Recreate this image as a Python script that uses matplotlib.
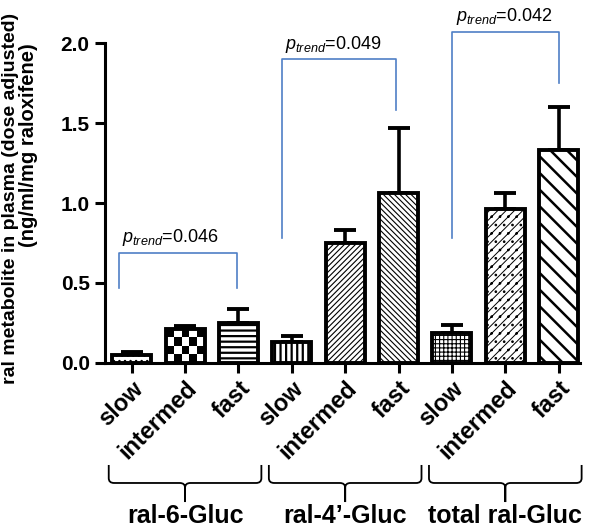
import numpy as np
import matplotlib
matplotlib.use("Agg")
import matplotlib.pyplot as plt
from matplotlib.path import Path
from matplotlib.patches import PathPatch
import matplotlib.transforms as mtransforms

plt.rcParams['font.family'] = ['Liberation Sans', 'DejaVu Sans']
plt.rcParams['mathtext.fontset'] = 'custom'
plt.rcParams['mathtext.it'] = 'Liberation Sans:italic'
plt.rcParams['mathtext.rm'] = 'Liberation Sans'

# data
groups = ['ral-6-Gluc', 'ral-4\u2019-Gluc', 'total ral-Gluc']
phenotypes = ['slow', 'intermed', 'fast']
ral6_mean = [0.05, 0.21, 0.25]
ral6_err = [0.02, 0.02, 0.09]
ral4_mean = [0.13, 0.75, 1.06]
ral4_err = [0.04, 0.08, 0.41]
total_mean = [0.19, 0.96, 1.33]
total_err = [0.05, 0.10, 0.27]
p_trend = ['0.046', '0.049', '0.042']

means = ral6_mean + ral4_mean + total_mean
errs = ral6_err + ral4_err + total_err
labels = phenotypes * 3
x = np.arange(len(means))

# hatch patterns (None -> checkerboard)
hatches = ['...', None, '---', '|||', '//////', '\\\\\\\\\\\\', '++++', '////..', '\\\\']
hatch_lw = [1.0, 1.0, 1.6, 1.6, 0.8, 0.8, 0.8, 0.7, 1.8]

fig = plt.figure(figsize=(6, 5.31), dpi=100)
ax = fig.add_axes([0.175, 0.3164, 0.7917, 0.6026])

w = 0.73
for i in range(len(means)):
    plt.rcParams['hatch.linewidth'] = hatch_lw[i]
    face = 'none' if hatches[i] is None else 'white'
    b = ax.bar(x[i], means[i], width=w, color=face, edgecolor='black',
               linewidth=2.8, hatch=hatches[i], zorder=2)[0]
    if hatches[i] is None:
        # checkerboard fill
        nx, ny = 5, 4
        board = (np.add.outer(np.arange(ny), np.arange(nx)) % 2).astype(float)
        im = ax.imshow(board, cmap='gray', interpolation='nearest', aspect='auto',
                       extent=(x[i] - w / 2, x[i] + w / 2, 0, means[i]), zorder=1.9)
        im.set_clip_path(b)

ax.errorbar(x, means, yerr=[np.zeros(len(errs)), errs], fmt='none', ecolor='black',
            elinewidth=2.6, capsize=8, capthick=2.8, zorder=1.5)

ax.set_xlim(-0.5, 8.4)
ax.set_ylim(0, 2.0)
ax.set_yticks([0.0, 0.5, 1.0, 1.5, 2.0])
ax.set_yticklabels(['0.0', '0.5', '1.0', '1.5', '2.0'], fontsize=15, fontweight='bold')
ax.set_xticks(x)
ax.set_xticklabels(labels, rotation=45, ha='right', rotation_mode='anchor',
                   fontsize=17, fontweight='bold')
ax.spines['top'].set_visible(False)
ax.spines['right'].set_visible(False)
ax.spines['left'].set_linewidth(2.2)
ax.spines['bottom'].set_linewidth(2.2)
ax.tick_params(axis='both', width=2.2, length=7, pad=4)
ax.tick_params(axis='x', pad=3)

# y label (two lines)
fig.text(0.0167, 0.627, 'ral metabolite in plasma (dose adjusted)', rotation=90,
         ha='center', va='center', fontsize=14, fontweight='bold')
fig.text(0.0467, 0.727, '(ng/ml/mg raloxifene)', rotation=90,
         ha='center', va='center', fontsize=14.5, fontweight='bold')

# p-trend brackets
blue = '#4f7fc6'
bracket_x = [(-0.24, 1.97), (2.81, 4.96), (6.01, 8.0)]
bracket_y = [(0.47, 0.47, 0.69), (0.78, 1.58, 1.90), (0.78, 1.75, 2.07)]
for g in range(3):
    xl, xr = bracket_x[g]
    yl, yr, yt = bracket_y[g]
    ax.plot([xl, xl, xr, xr], [yl, yt, yt, yr], color=blue, lw=1.2, clip_on=False, zorder=3)
    ax.text(xl + 0.06, yt + 0.065, r'$\mathit{p}_{\mathit{trend}}$=' + p_trend[g],
            fontsize=13, ha='left', va='baseline', clip_on=False)

# curly braces below the groups
def brace(ax, x0, x1, ytop, ymid, ytip, rx=0.1, ry=0.03):
    xc = (x0 + x1) / 2
    verts, codes = [], []
    for xe, s in ((x0, 1), (x1, -1)):
        verts += [(xe, ytop), (xe, ymid + ry), (xe, ymid), (xe + s * rx, ymid),
                  (xc - s * rx, ymid), (xc, ymid), (xc, ymid - ry), (xc, ytip)]
        codes += [Path.MOVETO, Path.LINETO, Path.CURVE3, Path.CURVE3,
                  Path.LINETO, Path.CURVE3, Path.CURVE3, Path.LINETO]
    ax.add_patch(PathPatch(Path(verts, codes), fill=False, lw=1.3, color='black',
                           clip_on=False))

trans = mtransforms.blended_transform_factory(ax.transData, fig.transFigure)
for g in range(3):
    c = x[3 * g + 1]
    brace(ax, c - 1.43, c + 1.43, -0.6375, -0.75, -0.869)
    ax.text(c, 0.028, groups[g], transform=trans, ha='center', va='center',
            fontsize=18, fontweight='bold')

fig.savefig('out.png', dpi=100)
